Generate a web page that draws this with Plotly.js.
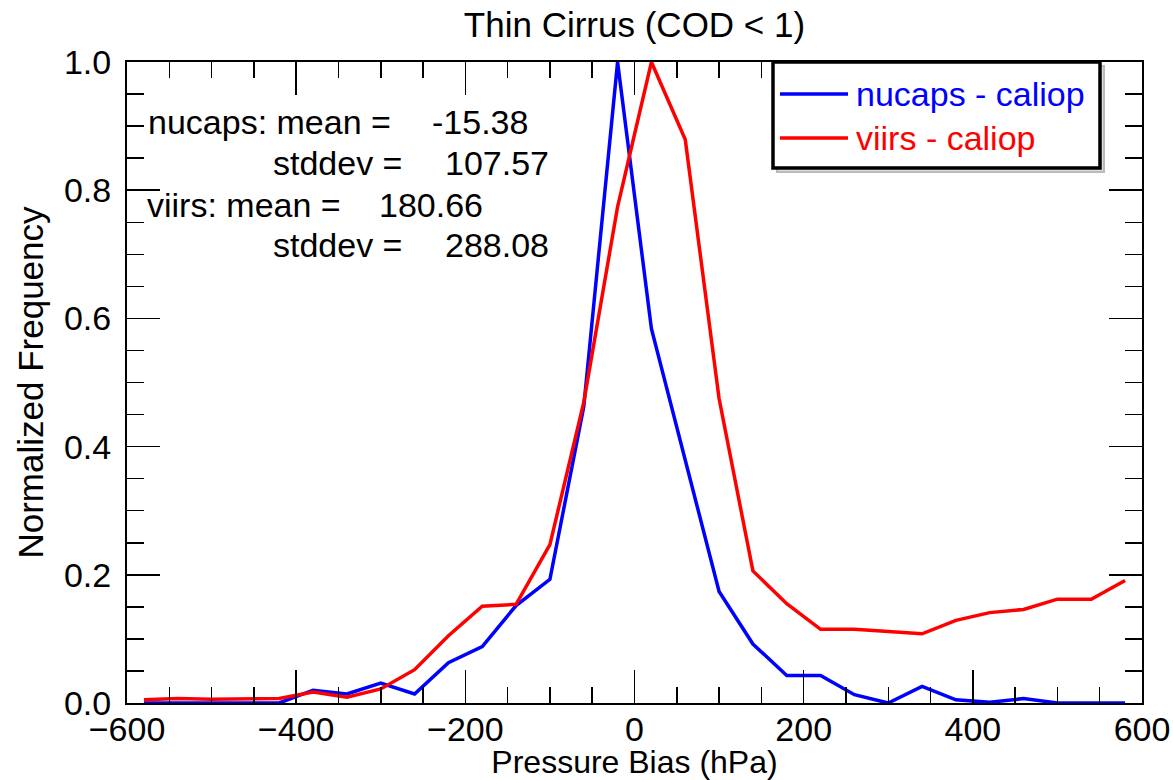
<!DOCTYPE html>
<html>
<head>
<meta charset="utf-8">
<script src="https://cdn.plot.ly/plotly-3.0.1.min.js"></script>
<style>html,body{margin:0;padding:0;background:#fff;}#chart{width:1173px;height:780px;}</style>
</head>
<body>
<div id="chart"></div>
<script>
// Bin centres (hPa)
const pressureBias = [-580,-540,-500,-460,-420,-380,-340,-300,-260,-220,-180,-140,-100,-60,-20,20,60,100,140,180,220,260,300,340,380,420,460,500,540,580];
// nucaps - caliop normalized frequency
const nucapsFreq = [0,0,0,0,0,0.020,0.014,0.031,0.014,0.063,0.088,0.152,0.193,0.462,1.0,0.584,0.377,0.174,0.092,0.043,0.043,0.013,0.0,0.026,0.005,0.001,0.007,0,0,0];
// viirs - caliop normalized frequency
const viirsFreq = [0.005,0.007,0.006,0.006,0.007,0.017,0.009,0.022,0.052,0.105,0.151,0.154,0.247,0.469,0.774,1.0,0.879,0.475,0.206,0.155,0.115,0.115,0.111,0.108,0.129,0.141,0.146,0.162,0.162,0.191];
const seriesNames = ["nucaps - caliop", "viirs - caliop"];
const seriesColors = ["#0000ff", "#ff0000"];
const statLabels = ["nucaps: mean =", "stddev =", "viirs: mean =", "stddev ="];
const statValues = ["-15.38", "107.57", "180.66", "288.08"];
const titleText = "Thin Cirrus (COD < 1)";
const xTitle = "Pressure Bias (hPa)";
const yTitle = "Normalized Frequency";

const FONT = '"Liberation Sans", Arial, Helvetica, sans-serif';
const FS = 34;
const FT = 35;

const traces = [
  {x: pressureBias, y: nucapsFreq, type: 'scatter', mode: 'lines', name: seriesNames[0],
   line: {color: seriesColors[0], width: 3.5}, showlegend: false},
  {x: pressureBias, y: viirsFreq, type: 'scatter', mode: 'lines', name: seriesNames[1],
   line: {color: seriesColors[1], width: 3.5}, showlegend: false}
];

// plot-area pixel helpers for layout placement
const L = 127, R = 1142, T = 62, B = 703.5;
const px = v => (v - L) / (R - L);
const py = v => (B - v) / (B - T);

const statLabelX = [146, 271, 145, 271];
const statValueX = [430, 443, 377, 443];
const statY = [122, 163, 205, 245];

const annotations = [];
for (let i = 0; i < statLabels.length; i++) {
  annotations.push({xref: 'paper', yref: 'paper', x: px(statLabelX[i]), y: py(statY[i]),
    xanchor: 'left', yanchor: 'middle', showarrow: false, text: statLabels[i],
    font: {family: FONT, size: FS, color: '#000'}});
  annotations.push({xref: 'paper', yref: 'paper', x: px(statValueX[i]), y: py(statY[i]),
    xanchor: 'left', yanchor: 'middle', showarrow: false, text: statValues[i],
    font: {family: FONT, size: FS, color: '#000'}});
}
// legend text
const legRowY = [94, 138];
for (let i = 0; i < 2; i++) {
  annotations.push({xref: 'paper', yref: 'paper', x: px(854), y: py(legRowY[i]),
    xanchor: 'left', yanchor: 'middle', showarrow: false, text: seriesNames[i],
    font: {family: FONT, size: FS, color: seriesColors[i]}});
}

const shapes = [
  {type: 'rect', xref: 'paper', yref: 'paper', x0: px(777), x1: px(1104), y0: py(172), y1: py(66),
   line: {color: '#bbbbbb', width: 2}, fillcolor: '#dddddd', layer: 'above'},
  {type: 'rect', xref: 'paper', yref: 'paper', x0: px(773), x1: px(1100), y0: py(168), y1: py(62),
   line: {color: '#000', width: 3.5}, fillcolor: '#ffffff', layer: 'above'}
];
for (let i = 0; i < 2; i++) {
  shapes.push({type: 'line', xref: 'paper', yref: 'paper', x0: px(780), x1: px(848),
    y0: py(legRowY[i]), y1: py(legRowY[i]), line: {color: seriesColors[i], width: 3.5}, layer: 'above'});
}

const axisCommon = {
  showline: true, linecolor: '#000', linewidth: 2, mirror: 'allticks',
  ticks: 'inside', ticklen: 33, tickwidth: 1.5, tickcolor: '#000',
  showgrid: false, zeroline: false,
  tickfont: {family: FONT, size: FS, color: '#000'}
};

const layout = {
  width: 1173, height: 780,
  margin: {l: L, r: 1173 - R, t: T, b: 780 - B},
  paper_bgcolor: '#fff', plot_bgcolor: '#fff',
  title: {text: titleText, font: {family: FONT, size: FT, color: '#000'}, xref: 'paper', x: 0.5, xanchor: 'center', yref: 'container', y: 0.968, yanchor: 'middle'},
  xaxis: Object.assign({}, axisCommon, {
    range: [-600, 600], dtick: 200, tick0: -600,
    minor: {dtick: 50, ticks: 'inside', ticklen: 16, tickwidth: 1.5, tickcolor: '#000'},
    title: {text: xTitle, font: {family: FONT, size: 32, color: '#000'}, standoff: 9},
    ticklabelstandoff: -5
  }),
  yaxis: Object.assign({}, axisCommon, {
    range: [0, 1], dtick: 0.2, tick0: 0, tickformat: '.1f',
    minor: {dtick: 0.05, ticks: 'inside', ticklen: 17, tickwidth: 1.5, tickcolor: '#000'},
    title: {text: yTitle, font: {family: FONT, size: FT, color: '#000'}, standoff: 10},
    ticklabelstandoff: 7
  }),
  annotations: annotations,
  shapes: shapes,
  showlegend: false
};

Plotly.newPlot('chart', traces, layout, {displayModeBar: false, staticPlot: true});
</script>
</body>
</html>
